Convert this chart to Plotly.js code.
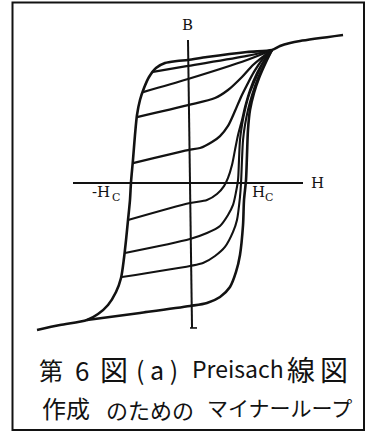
<!DOCTYPE html>
<html>
<head>
<meta charset="utf-8">
<script src="https://cdn.plot.ly/plotly-3.0.1.min.js"></script>
<style>
  html, body { margin: 0; padding: 0; background: #fff; }
  #chart { width: 368px; height: 436px; }
</style>
</head>
<body>
<div id="chart"></div>
<script>
// H in units of the coercive field Hc, B in units of the saturation flux density.

// Major loop: saturation tail, descending branch down to negative saturation
const majorDescH = [2.696, 1.948, 1.774, 1.600, 1.461, 1.026, 0.330, 0, -0.191, -0.400, -0.557, -0.678, -0.765, -0.835, -0.887, -0.922, -0.957, -0.991, -1.009, -1.043, -1.078, -1.113, -1.165, -1.252, -1.391, -1.565, -1.757, -2.226, -2.626];
const majorDescB = [1.113, 1.068, 1.053, 1.030, 1.000, 0.985, 0.947, 0.925, 0.917, 0.902, 0.865, 0.797, 0.714, 0.624, 0.511, 0.361, 0.173, 0.008, -0.128, -0.278, -0.429, -0.564, -0.714, -0.820, -0.917, -0.985, -1.030, -1.068, -1.105];

// Major loop: ascending branch back up to the tip
const majorAscH = [-1.757, -0.835, 0.035, 0.330, 0.557, 0.730, 0.835, 0.904, 0.957, 0.974, 1.009, 1.026, 1.043, 1.078, 1.148, 1.235, 1.357, 1.461];
const majorAscB = [-1.030, -0.977, -0.925, -0.902, -0.857, -0.782, -0.669, -0.541, -0.316, -0.128, 0.023, 0.211, 0.398, 0.549, 0.677, 0.789, 0.910, 1.000];

// Minor loops: each rises from a reversal point on the descending branch
const minor1H = [-0.609, 0, 1.026, 1.461];
const minor1B = [0.835, 0.880, 0.955, 1.000];

const minor2H = [-0.783, 0, 1.026, 1.461];
const minor2B = [0.684, 0.782, 0.925, 1.000];

const minor3H = [-0.887, 0, 0.470, 0.696, 0.939, 1.130, 1.339, 1.461];
const minor3B = [0.496, 0.586, 0.639, 0.699, 0.797, 0.887, 0.962, 1.000];

const minor4H = [-0.957, 0, 0.209, 0.417, 0.557, 0.696, 0.817, 0.922, 1.026, 1.148, 1.287, 1.461];
const minor4B = [0.150, 0.248, 0.263, 0.308, 0.353, 0.429, 0.541, 0.647, 0.737, 0.835, 0.925, 1.000];

const minor5H = [-1.043, 0.035, 0.330, 0.504, 0.626, 0.696, 0.765, 0.817, 0.870, 0.939, 0.991, 1.078, 1.200, 1.339, 1.461];
const minor5B = [-0.278, -0.150, -0.128, -0.083, -0.023, 0.038, 0.135, 0.248, 0.361, 0.474, 0.571, 0.699, 0.827, 0.932, 1.000];

const minor6H = [-1.096, 0.035, 0.330, 0.557, 0.696, 0.783, 0.835, 0.870, 0.887, 0.904, 0.939, 0.991, 1.061, 1.165, 1.304, 1.461];
const minor6B = [-0.526, -0.421, -0.376, -0.323, -0.241, -0.165, -0.068, 0.023, 0.173, 0.323, 0.436, 0.549, 0.662, 0.774, 0.902, 1.000];

const minor7H = [-1.148, 0.035, 0.261, 0.470, 0.643, 0.783, 0.852, 0.904, 0.922, 0.939, 0.957, 0.991, 1.043, 1.113, 1.217, 1.339, 1.461];
const minor7B = [-0.707, -0.624, -0.602, -0.549, -0.481, -0.368, -0.278, -0.105, 0, 0.173, 0.323, 0.436, 0.549, 0.662, 0.789, 0.902, 1.000];

// Hand-drawn coordinate axes
const hAxisH = [-2.0, 2.0];
const hAxisB = [0, 0];
const bAxisH = [0, 0.070];
const bAxisB = [1.075, -1.090];
const bFootH = [0.035, 0.157];
const bFootB = [-1.090, -1.090];

const INK = '#121212';

function curve(h, b, w) {
  return {
    x: h, y: b, type: 'scatter', mode: 'lines', hoverinfo: 'skip',
    line: { color: INK, width: w, shape: 'spline', smoothing: 0.8 }
  };
}
function straight(h, b, w) {
  return {
    x: h, y: b, type: 'scatter', mode: 'lines', hoverinfo: 'skip',
    line: { color: INK, width: w }
  };
}

const traces = [
  straight(hAxisH, hAxisB, 2),
  straight(bAxisH, bAxisB, 2),
  straight(bFootH, bFootB, 1.6),
  curve(majorDescH, majorDescB, 2.6),
  curve(majorAscH, majorAscB, 2.6),
  curve(minor1H, minor1B, 2.3),
  curve(minor2H, minor2B, 2.3),
  curve(minor3H, minor3B, 2.3),
  curve(minor4H, minor4B, 2.3),
  curve(minor5H, minor5B, 2.1),
  curve(minor6H, minor6B, 2.1),
  curve(minor7H, minor7B, 2.1)
];

// Page-pixel helpers for the paper-anchored caption and frame
const W = 368, H = 436;
const px = v => v / W;
const py = v => 1 - v / H;

const serif = size => ({ family: 'DejaVu Serif', size: size, color: INK });
const hand = size => ({ family: 'Noto Sans CJK JP', size: size, color: INK });

function note(text, x, y, font) {
  return { text: text, x: px(x), y: py(y), xref: 'paper', yref: 'paper',
           xanchor: 'center', yanchor: 'middle', showarrow: false, font: font };
}

const annotations = [
  note('B', 187, 25, serif(15)),
  note('H', 317, 183, serif(15)),
  // coercive field labels: letter plus a lowered small C
  note('-H', 101, 192, serif(15)),
  note('C', 116, 197, serif(11)),
  note('H', 258, 192, serif(15)),
  note('C', 269, 197, serif(11)),
  // caption, first line
  note('第', 51, 369, hand(24)),
  note('6', 82, 369, hand(26)),
  note('図', 114, 369, hand(28)),
  note('( a )', 157, 369, hand(25)),
  note('Preisach', 238, 368, hand(23)),
  note('線', 301, 369, hand(28)),
  note('図', 334, 369, hand(28)),
  // caption, second line
  note('作成', 66, 407, hand(24)),
  note('のための', 150, 409, hand(22)),
  note('マイナーループ', 279, 407, hand(21))
];

const layout = {
  width: W, height: H,
  margin: { l: 0, r: 0, t: 0, b: 0 },
  paper_bgcolor: '#ffffff', plot_bgcolor: '#ffffff',
  showlegend: false,
  xaxis: { range: [-3.2696, 3.1304], visible: false, fixedrange: true },
  yaxis: { range: [-1.9023, 1.3759], visible: false, fixedrange: true },
  shapes: [
    { type: 'rect', xref: 'paper', yref: 'paper',
      x0: px(12.5), x1: px(364), y0: py(430), y1: py(2.5),
      line: { color: INK, width: 2 } }
  ],
  annotations: annotations
};

Plotly.newPlot('chart', traces, layout, { staticPlot: true, displayModeBar: false });
</script>
</body>
</html>
